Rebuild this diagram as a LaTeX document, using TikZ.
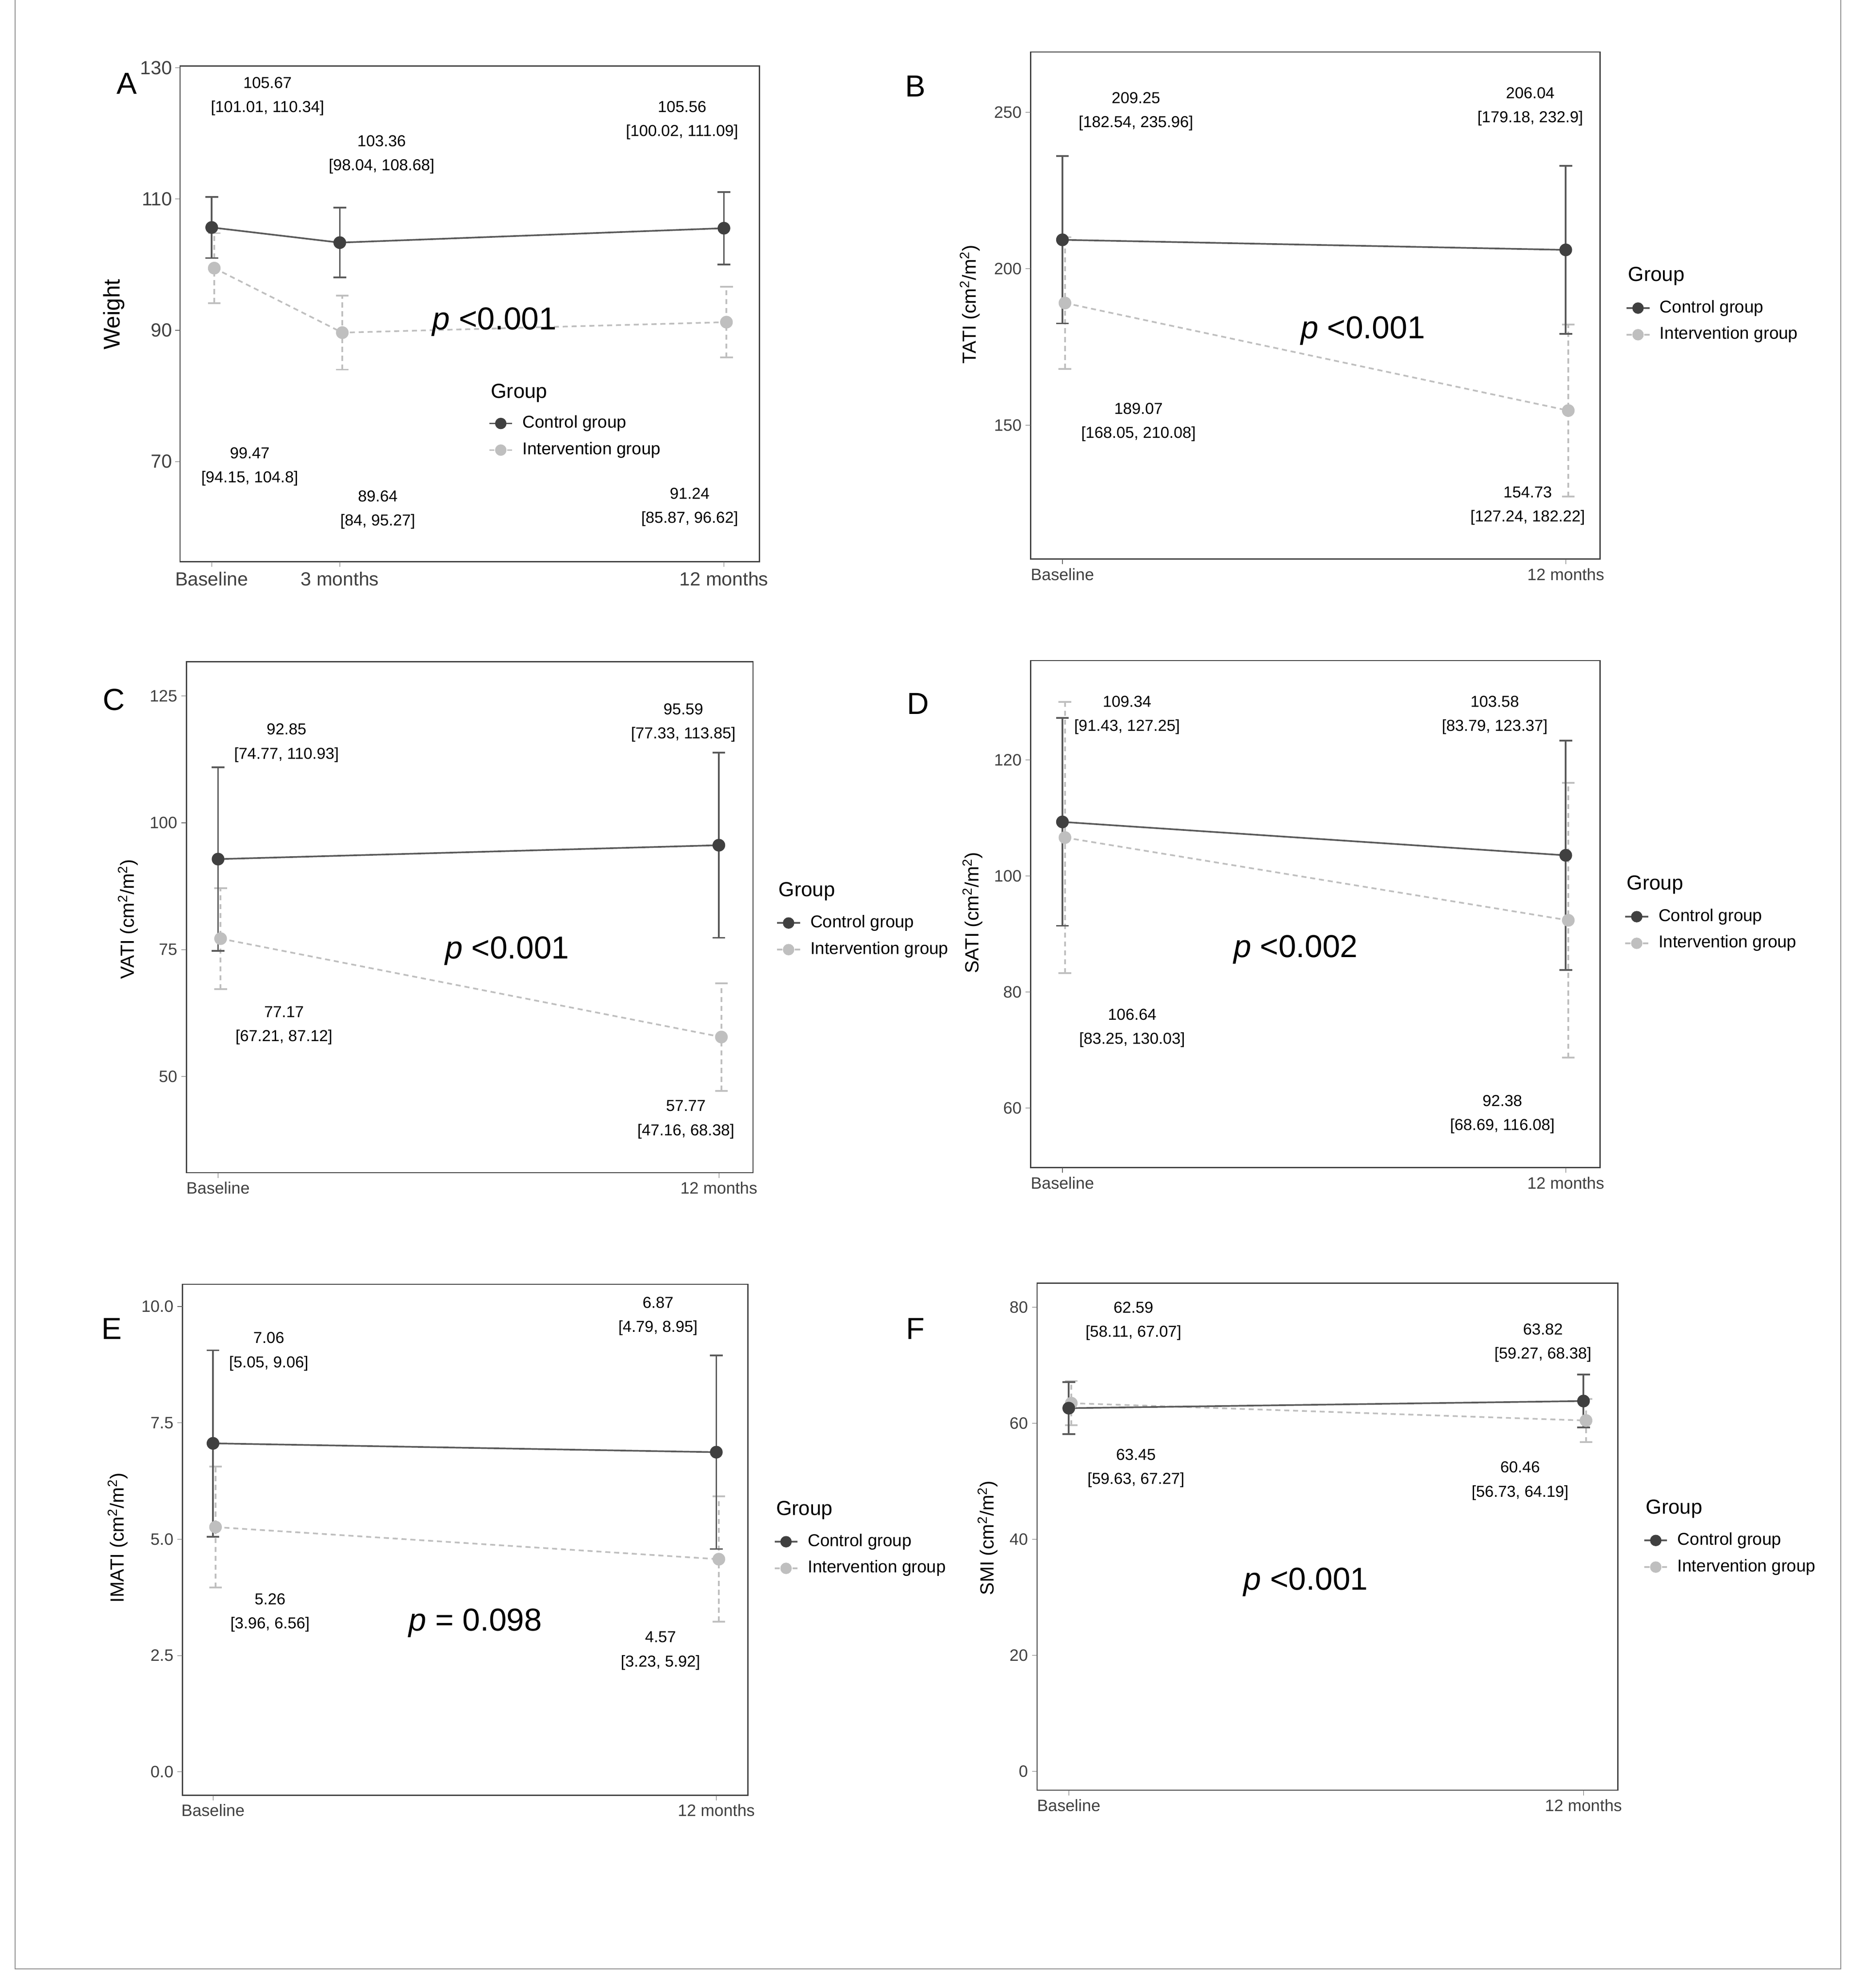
\documentclass[tikz,border=0pt]{standalone}
\usepackage{fontspec}
\setmainfont{Liberation Sans}
\begin{document}
\begin{tikzpicture}[x=1pt,y=-1pt,
  box/.style={draw=black!75,line width=0.9pt},
  ctl/.style={draw=black!65,line width=1.3pt},
  int/.style={draw=black!25,line width=1.3pt,dash pattern=on 4pt off 3pt},
  lab/.style={font=\fontsize{12.5}{19}\selectfont,align=center,inner sep=0pt},
  tk/.style={font=\fontsize{13}{15}\selectfont,text=black!75,inner sep=0pt},
  tkA/.style={font=\fontsize{15}{17}\selectfont,text=black!75,inner sep=0pt},
  pv/.style={font=\fontsize{25}{28}\selectfont,inner sep=0pt},
  pl/.style={font=\fontsize{24}{28}\selectfont,inner sep=0pt},
  gt/.style={font=\fontsize{16}{18}\selectfont,inner sep=0pt,anchor=west},
  li/.style={font=\fontsize{13.5}{16}\selectfont,inner sep=0pt,anchor=west},
  ytl/.style={font=\fontsize{15}{17}\selectfont,rotate=90,inner sep=0pt}]
\useasboundingbox (0,0) rectangle (1466,1568);
\definecolor{cdot}{gray}{0.25}
\definecolor{idot}{gray}{0.75}
\draw[black!45,line width=0.8pt] (12,0) -- (12,1553) -- (1452,1553) -- (1452,0);
\newcommand\YY[1]{\ya-(#1-\yv)*\ys}
\newcommand\EB[5]{%
  \draw[#5] (#1,{\YY{#3}}) -- (#1,{\YY{#4}});
  \draw[#5,solid] (#1-5,{\YY{#3}}) -- (#1+5,{\YY{#3}}) (#1-5,{\YY{#4}}) -- (#1+5,{\YY{#4}});}
\newcommand\PT[3]{\fill[#3] (#1,{\YY{#2}}) circle (5);}
\newcommand\LEG[3]{% x of dot, y group, y item1
  \node[gt] (g) at (#1-8,#2) {Group};
  \draw[ctl] (#1-9,#3) -- (#1+9,#3); \fill[cdot] (#1,#3) circle (4.5);
  \node[li] at (#1+17,#3) {Control group};
  \draw[int] (#1-9,#3+21) -- (#1+9,#3+21); \fill[idot] (#1,#3+21) circle (4.5);}
% ---------------- A
\def\ya{157}\def\yv{110}\def\ys{5.175}
\draw[box] (142,52) rectangle (599,443);
\foreach \v in {70,90,110,130}{\draw[black!60] (142,{\YY{\v}}) -- (138,{\YY{\v}});
  \node[tkA,anchor=east] at (136,{\YY{\v}}) {\v};}
\foreach \x/\t in {167/Baseline,268/3 months,571/12 months}{\draw[black!60] (\x,443) -- (\x,447);
  \node[tkA,anchor=north] at (\x,451) {\t};}
\node[pl] at (100,66) {A};
\node[ytl,font=\fontsize{18}{20}\selectfont] at (90,248) {Weight};
\EB{169}{99.47}{94.15}{104.8}{int}\EB{270}{89.64}{84}{95.27}{int}\EB{573}{91.24}{85.87}{96.62}{int}
\draw[int] (169,{\YY{99.47}}) -- (270,{\YY{89.64}}) -- (573,{\YY{91.24}});
\EB{167}{105.67}{101.01}{110.34}{ctl}\EB{268}{103.36}{98.04}{108.68}{ctl}\EB{571}{105.56}{100.02}{111.09}{ctl}
\draw[ctl] (167,{\YY{105.67}}) -- (268,{\YY{103.36}}) -- (571,{\YY{105.56}});
\PT{169}{99.47}{idot}\PT{270}{89.64}{idot}\PT{573}{91.24}{idot}
\PT{167}{105.67}{cdot}\PT{268}{103.36}{cdot}\PT{571}{105.56}{cdot}
\node[lab] at (211,76) {105.67\\{}[101.01, 110.34]};
\node[lab] at (301,122) {103.36\\{}[98.04, 108.68]};
\node[lab] at (538,95) {105.56\\{}[100.02, 111.09]};
\node[lab] at (197,368) {99.47\\{}[94.15, 104.8]};
\node[lab] at (298,402) {89.64\\{}[84, 95.27]};
\node[lab] at (544,400) {91.24\\{}[85.87, 96.62]};
\node[pv] at (390,254) {\textit{p} <0.001};
\LEG{395}{310}{334}\node[li] at (412,355) {Intervention group};
% ---------------- B
\def\ya{212}\def\yv{200}\def\ys{2.47}
\draw[box] (813,41) rectangle (1262,441);
\foreach \v in {150,200,250}{\draw[black!60] (813,{\YY{\v}}) -- (809,{\YY{\v}});
  \node[tk,anchor=east] at (806,{\YY{\v}}) {\v};}
\foreach \x/\t in {838/Baseline,1235/12 months}{\draw[black!60] (\x,441) -- (\x,445);
  \node[tk,anchor=north] at (\x,448) {\t};}
\node[pl] at (722,68) {B};
\node[ytl] at (765,240) {TATI (cm\textsuperscript{2}/m\textsuperscript{2})};
\EB{840}{189.07}{168.05}{210.08}{int}\EB{1237}{154.73}{127.24}{182.22}{int}
\draw[int] (840,{\YY{189.07}}) -- (1237,{\YY{154.73}});
\EB{838}{209.25}{182.54}{235.96}{ctl}\EB{1235}{206.04}{179.18}{232.9}{ctl}
\draw[ctl] (838,{\YY{209.25}}) -- (1235,{\YY{206.04}});
\PT{840}{189.07}{idot}\PT{1237}{154.73}{idot}\PT{838}{209.25}{cdot}\PT{1235}{206.04}{cdot}
\node[lab] at (896,88) {209.25\\{}[182.54, 235.96]};
\node[lab] at (1207,84) {206.04\\{}[179.18, 232.9]};
\node[lab] at (898,333) {189.07\\{}[168.05, 210.08]};
\node[lab] at (1205,399) {154.73\\{}[127.24, 182.22]};
\node[pv] at (1075,261) {\textit{p} <0.001};
\LEG{1292}{218}{243}\node[li] at (1309,264) {Intervention group};
% ---------------- C
\def\ya{649}\def\yv{100}\def\ys{4}
\draw[box] (147,522) rectangle (594,925);
\foreach \v in {50,75,100,125}{\draw[black!60] (147,{\YY{\v}}) -- (143,{\YY{\v}});
  \node[tk,anchor=east] at (140,{\YY{\v}}) {\v};}
\foreach \x/\t in {172/Baseline,567/12 months}{\draw[black!60] (\x,925) -- (\x,929);
  \node[tk,anchor=north] at (\x,932) {\t};}
\node[pl] at (90,552) {C};
\node[ytl] at (101,725) {VATI (cm\textsuperscript{2}/m\textsuperscript{2})};
\EB{174}{77.17}{67.21}{87.12}{int}\EB{569}{57.77}{47.16}{68.38}{int}
\draw[int] (174,{\YY{77.17}}) -- (569,{\YY{57.77}});
\EB{172}{92.85}{74.77}{110.93}{ctl}\EB{567}{95.59}{77.33}{113.85}{ctl}
\draw[ctl] (172,{\YY{92.85}}) -- (567,{\YY{95.59}});
\PT{174}{77.17}{idot}\PT{569}{57.77}{idot}\PT{172}{92.85}{cdot}\PT{567}{95.59}{cdot}
\node[lab] at (226,586) {92.85\\{}[74.77, 110.93]};
\node[lab] at (539,570) {95.59\\{}[77.33, 113.85]};
\node[lab] at (224,809) {77.17\\{}[67.21, 87.12]};
\node[lab] at (541,883) {57.77\\{}[47.16, 68.38]};
\node[pv] at (400,750) {\textit{p} <0.001};
\LEG{622}{703}{728}
\begin{scope}\clip (600,735) rectangle (748,765);
\node[li] at (639,749) {Intervention group};\end{scope}
% ---------------- D
\def\ya{691}\def\yv{100}\def\ys{4.575}
\draw[box] (813,521) rectangle (1262,921);
\foreach \v in {60,80,100,120}{\draw[black!60] (813,{\YY{\v}}) -- (809,{\YY{\v}});
  \node[tk,anchor=east] at (806,{\YY{\v}}) {\v};}
\foreach \x/\t in {838/Baseline,1235/12 months}{\draw[black!60] (\x,921) -- (\x,925);
  \node[tk,anchor=north] at (\x,928) {\t};}
\node[pl] at (724,555) {D};
\node[ytl] at (767,720) {SATI (cm\textsuperscript{2}/m\textsuperscript{2})};
\EB{840}{106.64}{83.25}{130.03}{int}\EB{1237}{92.38}{68.69}{116.08}{int}
\draw[int] (840,{\YY{106.64}}) -- (1237,{\YY{92.38}});
\EB{838}{109.34}{91.43}{127.25}{ctl}\EB{1235}{103.58}{83.79}{123.37}{ctl}
\draw[ctl] (838,{\YY{109.34}}) -- (1235,{\YY{103.58}});
\PT{840}{106.64}{idot}\PT{1237}{92.38}{idot}\PT{838}{109.34}{cdot}\PT{1235}{103.58}{cdot}
\node[lab] at (889,564) {109.34\\{}[91.43, 127.25]};
\node[lab] at (1179,564) {103.58\\{}[83.79, 123.37]};
\node[lab] at (893,811) {106.64\\{}[83.25, 130.03]};
\node[lab] at (1185,879) {92.38\\{}[68.69, 116.08]};
\node[pv] at (1022,749) {\textit{p} <0.002};
\LEG{1291}{698}{723}\node[li] at (1308,744) {Intervention group};
% ---------------- E
\def\ya{1214}\def\yv{5}\def\ys{36.7}
\draw[box] (144,1013) rectangle (590,1416);
\foreach \v in {0.0,2.5,5.0,7.5,10.0}{\draw[black!60] (144,{\YY{\v}}) -- (140,{\YY{\v}});
  \node[tk,anchor=east] at (137,{\YY{\v}}) {\v};}
\foreach \x/\t in {168/Baseline,565/12 months}{\draw[black!60] (\x,1416) -- (\x,1420);
  \node[tk,anchor=north] at (\x,1423) {\t};}
\node[pl] at (88,1048) {E};
\node[ytl] at (93,1213) {IMATI (cm\textsuperscript{2}/m\textsuperscript{2})};
\EB{170}{5.26}{3.96}{6.56}{int}\EB{567}{4.57}{3.23}{5.92}{int}
\draw[int] (170,{\YY{5.26}}) -- (567,{\YY{4.57}});
\EB{168}{7.06}{5.05}{9.06}{ctl}\EB{565}{6.87}{4.79}{8.95}{ctl}
\draw[ctl] (168,{\YY{7.06}}) -- (565,{\YY{6.87}});
\PT{170}{5.26}{idot}\PT{567}{4.57}{idot}\PT{168}{7.06}{cdot}\PT{565}{6.87}{cdot}
\node[lab] at (212,1066) {7.06\\{}[5.05, 9.06]};
\node[lab] at (519,1038) {6.87\\{}[4.79, 8.95]};
\node[lab] at (213,1272) {5.26\\{}[3.96, 6.56]};
\node[lab] at (521,1302) {4.57\\{}[3.23, 5.92]};
\node[pv] at (375,1280) {\textit{p} = 0.098};
\LEG{620}{1191}{1216}\node[li] at (637,1237) {Intervention group};
% ---------------- F
\def\ya{1397}\def\yv{0}\def\ys{4.575}
\draw[box] (818,1012) rectangle (1276,1412);
\foreach \v in {0,20,40,60,80}{\draw[black!60] (818,{\YY{\v}}) -- (814,{\YY{\v}});
  \node[tk,anchor=east] at (811,{\YY{\v}}) {\v};}
\foreach \x/\t in {843/Baseline,1249/12 months}{\draw[black!60] (\x,1412) -- (\x,1416);
  \node[tk,anchor=north] at (\x,1419) {\t};}
\node[pl] at (722,1048) {F};
\node[ytl] at (779,1213) {SMI (cm\textsuperscript{2}/m\textsuperscript{2})};
\EB{845}{63.45}{59.63}{67.27}{int}\EB{1251}{60.46}{56.73}{64.19}{int}
\draw[int] (845,{\YY{63.45}}) -- (1251,{\YY{60.46}});
\EB{843}{62.59}{58.11}{67.07}{ctl}\EB{1249}{63.82}{59.27}{68.38}{ctl}
\draw[ctl] (843,{\YY{62.59}}) -- (1249,{\YY{63.82}});
\PT{845}{63.45}{idot}\PT{1251}{60.46}{idot}\PT{843}{62.59}{cdot}\PT{1249}{63.82}{cdot}
\node[lab] at (894,1042) {62.59\\{}[58.11, 67.07]};
\node[lab] at (1217,1059) {63.82\\{}[59.27, 68.38]};
\node[lab] at (896,1158) {63.45\\{}[59.63, 67.27]};
\node[lab] at (1199,1168) {60.46\\{}[56.73, 64.19]};
\node[pv] at (1030,1248) {\textit{p} <0.001};
\LEG{1306}{1190}{1215}\node[li] at (1323,1236) {Intervention group};
\end{tikzpicture}
\end{document}
